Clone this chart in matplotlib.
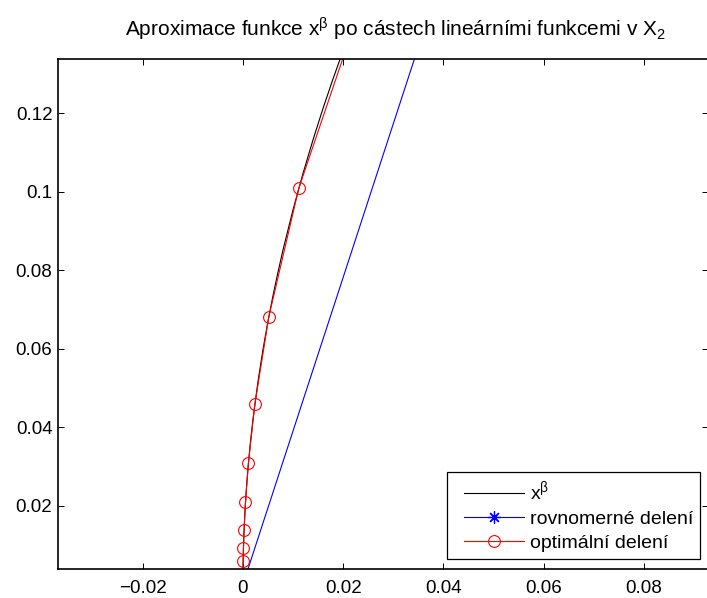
import matplotlib
matplotlib.use("Agg")
import matplotlib.pyplot as plt
from matplotlib.patches import Rectangle

plt.rcParams['font.family'] = ['Liberation Sans', 'DejaVu Sans']
plt.rcParams['mathtext.fontset'] = 'custom'
plt.rcParams['mathtext.rm'] = 'Liberation Sans'
plt.rcParams['mathtext.it'] = 'Liberation Sans:italic'

# x^beta curve
curve_x = [0, 0.00001, 0.00003, 0.0001, 0.0002, 0.0004, 0.0007, 0.001, 0.0015, 0.002,
           0.003, 0.004, 0.005, 0.006, 0.007, 0.008, 0.010, 0.012, 0.014, 0.016, 0.018, 0.020]
curve_y = [0, 0.00282, 0.00494, 0.00912, 0.01298, 0.0185, 0.0246, 0.02951, 0.03631, 0.04204,
           0.05167, 0.05986, 0.06707, 0.0736, 0.07959, 0.08526, 0.09548, 0.10478, 0.11334,
           0.12137, 0.12889, 0.13603]

# uniform partition nodes
unif_x = [0, 0.0625]
unif_y = [0, 0.2445]

# optimal partition nodes
opt_x = [0, 0.0000454, 0.000102, 0.000229, 0.000508, 0.0011, 0.00239, 0.00517, 0.01114, 0.024]
opt_y = [0, 0.0061, 0.0092, 0.0139, 0.0209, 0.0310, 0.0460, 0.0682, 0.1009, 0.1493]

xticks = [-0.02, 0, 0.02, 0.04, 0.06, 0.08]
xlabels = ['\u22120.02', '0', '0.02', '0.04', '0.06', '0.08']
yticks = [0.02, 0.04, 0.06, 0.08, 0.1, 0.12]
ylabels = ['0.02', '0.04', '0.06', '0.08', '0.1', '0.12']

W, H = 707, 598
fig = plt.figure(figsize=(W / 100, H / 100), dpi=100)
ax = fig.add_axes([58 / W, 29 / H, 650 / W, 510.5 / H])

ax.plot(curve_x, curve_y, color='black', lw=0.8, label=r'x$^\mathrm{β}$')
ax.plot(unif_x, unif_y, color='blue', lw=0.8, marker=(8, 2, 0), ms=9, mew=0.9,
        label='rovnomerné delení')
ax.plot(opt_x, opt_y, color='red', lw=0.8, marker='o', ms=8.5, mfc='none', mew=0.8,
        label='optimální delení')

ax.set_xlim(-0.0369, 0.0928)
ax.set_ylim(0.00395, 0.134)
ax.set_xticks(xticks)
ax.set_xticklabels(xlabels)
ax.set_yticks(yticks)
ax.set_yticklabels(ylabels)
ax.tick_params(direction='in', top=True, right=True, length=4, width=0.7,
               labelsize=13.5)
ax.tick_params(axis='x', pad=8)
ax.tick_params(axis='y', pad=4)
for s in ax.spines.values():
    s.set_linewidth(1.2)

ax.set_title(r'Aproximace funkce x$^\mathrm{β}$ po cástech lineárními funkcemi v X$_\mathrm{2}$',
             fontsize=15, pad=16, x=(395 - 58) / 650)

# legend entries, frame drawn separately (MATLAB-like wider left margin)
leg = ax.legend(loc='lower right', bbox_to_anchor=(700 / W, 39 / H),
                bbox_transform=fig.transFigure, borderaxespad=0, frameon=False,
                fontsize=14, handlelength=3.1, handletextpad=0.3, labelspacing=0.35,
                borderpad=0.35)
leg.set_zorder(6)
ax.add_patch(Rectangle((447 / W, 39 / H), 253 / W, 87 / H, transform=fig.transFigure,
                       facecolor='white', edgecolor='black', lw=0.9, zorder=5,
                       clip_on=False))

fig.savefig('out.png', dpi=100)
